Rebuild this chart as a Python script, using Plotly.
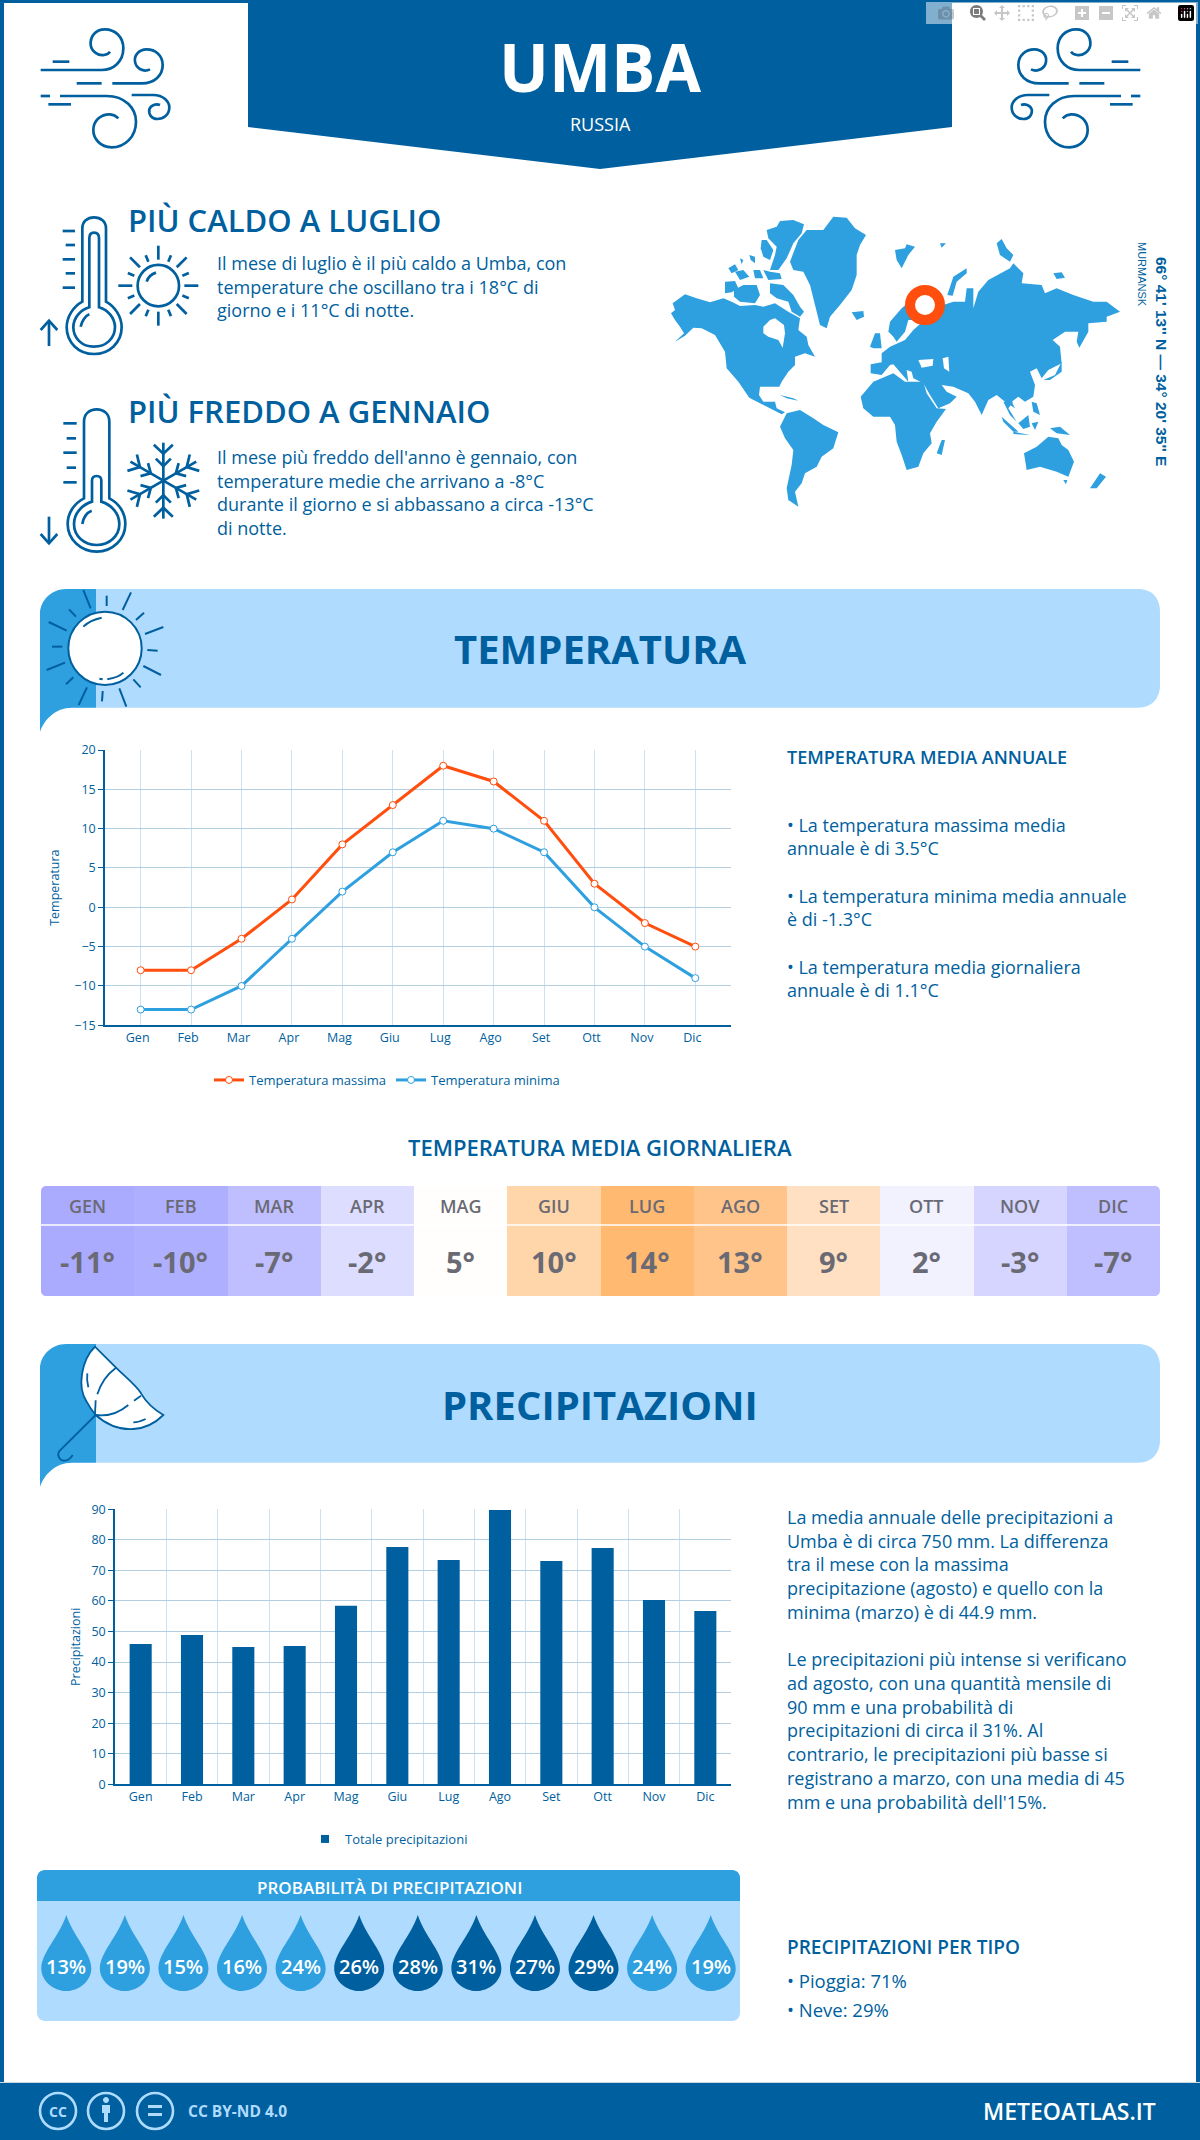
"""Umba - scheda clima (meteoatlas), ricostruita con Plotly"""
import math
import re

import plotly.graph_objects as go

W, H = 1200, 2140
DARK = "#005F9E"
BLUE = "#2E9FDF"
LIGHT = "#AFDBFF"
ORANGE = "#FF4E0D"
GRID = "#B4CEE2"
GRID_V = "#CFE1EF"
GREY = "#6A6A74"
FONT = "Open Sans"

# dati
months = ["Gen", "Feb", "Mar", "Apr", "Mag", "Giu", "Lug", "Ago", "Set", "Ott", "Nov", "Dic"]
months_upper = ["GEN", "FEB", "MAR", "APR", "MAG", "GIU", "LUG", "AGO", "SET", "OTT", "NOV", "DIC"]
temp_max = [-8, -8, -4, 1, 8, 13, 18, 16, 11, 3, -2, -5]
temp_min = [-13, -13, -10, -4, 2, 7, 11, 10, 7, 0, -5, -9]
temp_daily = [-11, -10, -7, -2, 5, 10, 14, 13, 9, 2, -3, -7]
precip = [45.9, 48.9, 44.9, 45.3, 58.4, 77.7, 73.4, 89.8, 73.1, 77.3, 60.3, 56.7]
precip_prob = [13, 19, 15, 16, 24, 26, 28, 31, 27, 29, 24, 19]
temp_ticks = [-15, -10, -5, 0, 5, 10, 15, 20]
precip_ticks = [0, 10, 20, 30, 40, 50, 60, 70, 80, 90]

hot_lines = ["Il mese di luglio è il più caldo a Umba, con",
             "temperature che oscillano tra i 18°C di",
             "giorno e i 11°C di notte."]
cold_lines = ["Il mese più freddo dell'anno è gennaio, con",
              "temperature medie che arrivano a -8°C",
              "durante il giorno e si abbassano a circa -13°C",
              "di notte."]
annual_lines = ["• La temperatura massima media", "annuale è di 3.5°C",
                "• La temperatura minima media annuale", "è di -1.3°C",
                "• La temperatura media giornaliera", "annuale è di 1.1°C"]
precip_lines = ["La media annuale delle precipitazioni a",
                "Umba è di circa 750 mm. La differenza",
                "tra il mese con la massima",
                "precipitazione (agosto) e quello con la",
                "minima (marzo) è di 44.9 mm.",
                "Le precipitazioni più intense si verificano",
                "ad agosto, con una quantità mensile di",
                "90 mm e una probabilità di",
                "precipitazioni di circa il 31%. Al",
                "contrario, le precipitazioni più basse si",
                "registrano a marzo, con una media di 45",
                "mm e una probabilità dell'15%."]

# contorni della mappa, in coordinate del ritaglio
WORLD = [
    [(38,295),(75,268),(110,280),(150,292),(190,280),(215,290),(240,303),(285,300),(310,305),(345,295),(385,320),(420,340),(415,375),(440,395),(445,420),(465,455),(435,445),(405,455),(405,480),(385,500),(365,530),(358,545),(300,545),(297,570),(310,590),(345,590),(350,610),(375,622),(365,628),(340,615),(300,595),(268,578),(235,530),(200,490),(195,440),(165,390),(125,370),(100,368),(75,392),(45,410),(72,385),(60,365),(45,345),(33,325),(45,315)],
    [(320,75),(350,65),(360,48),(400,45),(432,58),(425,85),(400,115),(380,160),(355,195),(330,195),(345,150),(350,125),(325,100)],
    [(305,105),(320,105),(340,135),(330,165),(310,155),(302,130)],
    [(205,190),(225,178),(235,195),(215,205)],
    [(225,200),(250,195),(268,215),(240,225)],
    [(280,195),(300,195),(310,220),(285,220)],
    [(310,195),(330,200),(360,205),(365,222),(325,225)],
    [(195,230),(225,228),(235,250),(215,262),(195,265)],
    [(222,255),(250,240),(290,240),(300,270),(285,295),(240,290),(222,275)],
    [(330,235),(370,240),(400,270),(420,305),(432,320),(420,335),(395,320),(385,290),(350,280),(330,265)],
    [(268,150),(285,155),(285,175),(272,165)],
    [(240,160),(250,165),(245,178)],
    [(390,170),(415,105),(440,75),(490,75),(520,35),(560,38),(585,70),(618,90),(600,120),(590,150),(590,210),(575,255),(540,300),(510,335),(500,370),(480,360),(465,300),(450,240),(430,200),(400,195)],
    [(575,322),(610,318),(612,335),(590,345)],
    [(705,135),(735,130),(740,118),(765,125),(745,150),(725,190),(710,165)],
    [(862,270),(880,215),(920,190),(920,205),(890,230),(878,272)],
    [(840,115),(858,115),(845,128)],
    [(1010,115),(1025,102),(1040,130),(1060,150),(1050,170),(1020,150)],
    [(1180,205),(1205,202),(1215,218),(1190,222)],
    [(685,380),(690,350),(725,310),(760,280),(800,270),(800,330),(770,345),(745,345),(735,380),(710,410),(700,395),(690,385)],
    [(632,478),(665,472),(665,445),(690,425),(735,405),(760,375),(800,340),(850,300),(880,290),(915,290),(920,250),(940,250),(940,310),(955,260),(985,225),(1050,190),(1060,175),(1090,205),(1085,235),(1145,240),(1155,265),(1190,250),(1240,270),(1300,290),(1340,290),(1380,320),(1340,335),(1340,350),(1285,355),(1285,380),(1258,428),(1250,410),(1255,380),(1215,380),(1178,405),(1200,425),(1205,475),(1165,495),(1145,520),(1130,490),(1110,500),(1125,540),(1120,575),(1095,590),(1075,575),(1055,590),(1065,610),(1035,590),(1010,570),(985,585),(965,630),(945,590),(925,565),(880,545),(845,540),(860,560),(890,575),(870,595),(835,610),(810,570),(790,535),(760,520),(755,500),(740,495),(745,530),(700,478),(690,480),(665,510),(632,505)],
    [(630,425),(645,385),(660,385),(665,430),(640,430)],
    [(602,575),(640,530),(700,505),(735,530),(790,530),(800,565),(830,610),(858,612),(830,650),(810,685),(815,715),(790,745),(775,785),(740,795),(725,750),(710,710),(705,660),(690,635),(640,635),(610,610)],
    [(830,745),(845,705),(855,705),(845,750)],
    [(360,665),(380,625),(420,615),(460,640),(490,660),(535,682),(520,730),(485,755),(470,785),(435,805),(425,835),(405,860),(415,905),(385,885),(380,850),(395,780),(400,735),(375,700)],
    [(1150,525),(1185,510),(1205,470),(1205,500),(1170,525)],
    [(1092,745),(1130,725),(1165,695),(1195,700),(1205,720),(1225,735),(1242,770),(1225,815),(1190,800),(1140,785),(1100,795)],
    [(1290,850),(1320,805),(1338,815),(1310,850)],
    [(1210,825),(1222,825),(1218,838)],
    [(1025,635),(1075,680),(1060,680),(1030,650)],
    [(1060,680),(1110,690),(1060,687)],
    [(1075,655),(1105,630),(1110,665),(1090,672)],
    [(1170,670),(1200,665),(1230,690),(1190,685)],
    [(1115,590),(1130,595),(1140,630),(1120,620)],
    [(1115,655),(1135,650),(1125,675)],
    [(1030,590),(1060,590),(1045,610),(1070,650),(1050,630)],
    [(360,570),(400,580),(415,587),(380,580)],
]
WORLD_HOLES = [
    [(310,365),(330,345),(345,340),(372,360),(375,385),(368,428),(355,405),(325,395),(310,385)],
    [(775,465),(820,462),(818,482),(785,488)],
    [(848,460),(865,455),(868,500),(852,490)],
]

WIND = [
    "M32 150 L215 150 C250 150 280 125 280 85 C280 50 255 28 225 28 C195 28 180 50 182 75 C185 95 205 108 222 105 C232 103 238 98 240 95",
    "M68 125 L118 125",
    "M140 190 L215 190",
    "M247 190 L335 190 C375 190 398 165 398 135 C398 105 375 88 350 88 C325 88 312 108 315 125 C318 145 340 158 360 148",
    "M32 228 L60 228",
    "M90 228 L230 228 C285 228 318 265 318 305 C318 350 285 382 245 382 C210 382 190 355 190 330 C190 300 215 282 240 283 C250 284 260 290 265 295",
    "M55 253 L123 253",
    "M305 225 L370 225 C400 225 418 245 418 262 C418 285 400 297 382 297 C365 297 355 283 358 268 C362 255 378 250 390 255",
]
THERMO_HOT = [
    "M157 275 L157 55 C157 35 172 22 192 22 C212 22 228 35 228 55 L228 275 C255 290 275 320 275 352 C275 398 238 432 192 432 C146 432 110 398 110 352 C110 320 130 290 157 275 Z",
    "M178 292 L178 85 C178 72 185 68 192 68 C200 68 207 72 207 85 L207 292 C235 300 255 325 255 352 C255 385 228 410 192 410 C156 410 130 385 130 352 C130 325 150 300 178 292 Z",
    "M152 350 C155 335 165 318 178 313",
    "M98 63 L135 63", "M107 105 L135 105", "M98 148 L135 148", "M107 190 L135 190", "M98 233 L135 233",
    "M57 408 L57 332", "M32 360 L57 332 L82 360",
    "M350 215 C355 200 365 192 378 188",
]
THERMO_COLD = [
    "M162 295 L162 65 C162 42 178 28 200 28 C222 28 238 42 238 65 L238 295 C268 310 286 340 286 372 C286 418 248 455 200 455 C152 455 113 418 113 372 C113 340 132 310 162 295 Z",
    "M186 305 L186 242 C186 232 192 228 200 228 C208 228 214 232 214 242 L214 305 C245 315 268 340 268 372 C268 408 238 435 200 435 C162 435 132 408 132 372 C132 340 155 315 186 305 Z",
    "M157 372 C160 352 170 338 185 332",
    "M100 70 L140 70", "M110 115 L138 115", "M100 158 L140 158", "M110 203 L138 203", "M100 247 L140 247",
    "M57 350 L57 430", "M32 402 L57 430 L82 402",
]
SUN_RAYS = [
    "M160 30 L182 85", "M230 47 L230 78", "M303 37 L278 90", "M342 98 L318 120",
    "M400 141 L345 162", "M352 210 L383 212", "M340 258 L393 285", "M310 298 L332 322",
    "M268 325 L289 380", "M218 333 L216 364", "M171 322 L146 375", "M130 292 L108 313",
    "M105 248 L50 270", "M97 200 L66 200", "M110 152 L56 126", "M138 110 L117 88",
    "M160 140 C175 125 195 117 215 113", "M232 298 C250 295 268 290 280 278", "M208 296 L218 298",
]
UMBRELLA_CANOPY = "M195 35 C155 75 140 155 170 200 C178 215 190 232 197 240 C225 265 265 285 310 282 C345 280 378 262 400 240 C375 225 350 205 333 175 C318 150 285 125 258 98 C240 80 215 55 195 35 Z"
UMBRELLA_LINES = [
    "M258 98 C235 115 212 145 202 178", "M172 115 C170 130 172 145 175 157", "M197 196 L195 238",
    "M197 240 C230 245 265 235 295 210", "M312 197 L333 182", "M310 262 C325 262 335 258 347 252",
    "M197 240 L88 348 C80 360 88 375 100 377 C112 378 122 370 128 360",
]

shapes = []
annotations = []


def pt(x, y):
    return x / W, 1 - y / H


def zpath(d, ox=0, oy=0, scale=1 / 3, mirror=None):
    """converte un path da coordinate del ritaglio a coordinate paper"""
    out, nums = [], []
    for tok in re.findall(r"[MLCQZ]|-?\d+\.?\d*", d):
        if tok.isalpha():
            out.append(tok)
            continue
        nums.append(float(tok))
        if len(nums) == 2:
            x, y = ox + nums[0] * scale, oy + nums[1] * scale
            if mirror is not None:
                x = mirror - x
            px, py = pt(x, y)
            out.append(f"{px:.5f} {py:.5f}")
            nums = []
    return " ".join(out)


def add_path(path, fill=None, color=None, width=0):
    shapes.append(dict(type="path", xref="paper", yref="paper", path=path,
                       fillcolor=fill or "rgba(0,0,0,0)",
                       line=dict(color=color or "rgba(0,0,0,0)", width=width)))


def add_rect(x0, y0, x1, y1, fill):
    a, b = pt(x0, y0)
    c, d = pt(x1, y1)
    shapes.append(dict(type="rect", xref="paper", yref="paper", x0=a, y0=b, x1=c, y1=d,
                       fillcolor=fill, line=dict(width=0)))


def add_circle(cx, cy, r, fill=None, color=DARK, width=2):
    a, b = pt(cx - r, cy - r)
    c, d = pt(cx + r, cy + r)
    shapes.append(dict(type="circle", xref="paper", yref="paper", x0=a, y0=b, x1=c, y1=d,
                       fillcolor=fill or "rgba(0,0,0,0)", line=dict(color=color, width=width)))


def round_rect(x0, y0, x1, y1, r):
    k = r * 0.45
    return zpath(
        f"M{x0 + r} {y0} L{x1 - r} {y0} C{x1 - k} {y0} {x1} {y0 + k} {x1} {y0 + r} "
        f"L{x1} {y1 - r} C{x1} {y1 - k} {x1 - k} {y1} {x1 - r} {y1} "
        f"L{x0 + r} {y1} C{x0 + k} {y1} {x0} {y1 - k} {x0} {y1 - r} "
        f"L{x0} {y0 + r} C{x0} {y0 + k} {x0 + k} {y0} {x0 + r} {y0} Z", scale=1)


def text(x, y, s, size, color=DARK, weight=400, anchor="left", angle=0, family=FONT):
    a, b = pt(x, y)
    annotations.append(dict(xref="paper", yref="paper", x=a, y=b, text=s, showarrow=False,
                            xanchor=anchor, yanchor="middle", textangle=angle,
                            font=dict(family=family, size=size, color=color, weight=weight)))


def banner(dy):
    add_path(zpath(f"M96 {589 + dy} L1138 {589 + dy} C1152 {589 + dy} 1160 {598 + dy} 1160 {612 + dy} "
                   f"L1160 {685 + dy} C1160 {698 + dy} 1152 {707.7 + dy} 1138 {707.7 + dy} L96 {707.7 + dy} Z",
                   scale=1), fill=LIGHT)
    add_path(zpath(f"M40 {732 + dy} L40 {614 + dy} C40 {600 + dy} 52 {589 + dy} 66 {589 + dy} L96 {589 + dy} "
                   f"L96 {707.7 + dy} L72 {707.7 + dy} C55 {707.7 + dy} 44 {720 + dy} 40 {732 + dy} Z",
                   scale=1), fill=BLUE)


# cornice e testata
add_rect(0, 0, 4, H, DARK)
add_rect(W - 4, 0, W, H, DARK)
add_rect(0, 0, W, 3, DARK)
add_path(zpath("M248 0 L952 0 L952 127 L600 169 L248 127 Z", scale=1), fill=DARK)
text(600, 66, "UMBA", 66, "white", 700, "center")
text(600, 124, "RUSSIA", 18, "white", 400, "center")

for d in WIND:
    add_path(zpath(d, 30, 20), color=DARK, width=2.7)
    add_path(zpath(d, 30, 20, mirror=1181), color=DARK, width=2.7)

# icone caldo / freddo
for d in THERMO_HOT:
    add_path(zpath(d, 30, 210), color=DARK, width=2.7)
sun_x, sun_y = 30 + 385 / 3, 210 + 227 / 3
add_circle(sun_x, sun_y, 20.7, width=2.7)
for k in range(16):
    ang = k * math.pi / 8
    r2 = 40 if k % 2 == 0 else 33
    x0, y0 = sun_x + 26 * math.cos(ang), sun_y + 26 * math.sin(ang)
    x1, y1 = sun_x + r2 * math.cos(ang), sun_y + r2 * math.sin(ang)
    add_path(zpath(f"M{x0:.2f} {y0:.2f} L{x1:.2f} {y1:.2f}", scale=1), color=DARK, width=2.7)

for d in THERMO_COLD:
    add_path(zpath(d, 30, 400), color=DARK, width=2.7)
fl_x, fl_y = 30 + 400 / 3, 400 + 242 / 3
for k in range(6):
    ang = math.pi / 2 + k * math.pi / 3
    ux, uy = math.cos(ang), math.sin(ang)
    vx, vy = -uy, ux
    add_path(zpath(f"M{fl_x:.2f} {fl_y:.2f} L{fl_x + 38 * ux:.2f} {fl_y + 38 * uy:.2f}", scale=1),
             color=DARK, width=2.7)
    for apex, tip, lat in [(27, 36, 9.5), (14.5, 22, 7.5)]:
        add_path(zpath(f"M{fl_x + tip * ux + lat * vx:.2f} {fl_y + tip * uy + lat * vy:.2f} "
                       f"L{fl_x + apex * ux:.2f} {fl_y + apex * uy:.2f} "
                       f"L{fl_x + tip * ux - lat * vx:.2f} {fl_y + tip * uy - lat * vy:.2f}", scale=1),
                 color=DARK, width=2.7)

text(126, 220, "PIÙ CALDO A LUGLIO", 31, DARK, 600)
for i, line in enumerate(hot_lines):
    text(215, 263 + i * 23.5, line, 18)
text(126, 411, "PIÙ FREDDO A GENNAIO", 31, DARK, 600)
for i, line in enumerate(cold_lines):
    text(215, 457 + i * 23.7, line, 18)

# mappa
for poly in WORLD:
    add_path(zpath("M" + " L".join(f"{x} {y}" for x, y in poly) + " Z", 660, 205), fill=BLUE)
for poly in WORLD_HOLES:
    add_path(zpath("M" + " L".join(f"{x} {y}" for x, y in poly) + " Z", 660, 205), fill="white")
add_circle(925, 305, 15, fill="white", color=ORANGE, width=10)
text(1162, 361, "66° 41' 13'' N — 34° 20' 35'' E", 15.5, DARK, 700, "center", 90, "Liberation Sans")
text(1142, 274, "MURMANSK", 11, DARK, 400, "center", 90, "Liberation Sans")

# sezione temperatura
banner(0)
add_circle(30 + 225 / 3, 580 + 205 / 3, 36.7, fill="white", width=2)
for d in SUN_RAYS:
    add_path(zpath(d, 30, 580), color=DARK, width=2)
text(600, 648, "TEMPERATURA", 40, DARK, 700, "center")
text(785, 757, "TEMPERATURA MEDIA ANNUALE", 18, DARK, 600)
for y, line in zip([825, 848, 896, 919, 967, 990.5], annual_lines):
    text(785, y, line, 18)
text(600, 1147, "TEMPERATURA MEDIA GIORNALIERA", 22, DARK, 600, "center")

# striscia temperatura giornaliera
for i, (m, t) in enumerate(zip(months_upper, temp_daily)):
    annotations.append(dict(xref="x3", yref="paper", x=months[i], y=pt(0, 1206)[1], text=m, showarrow=False,
                            yanchor="middle", font=dict(family=FONT, size=18, color=GREY, weight=600)))
    annotations.append(dict(xref="x3", yref="paper", x=months[i], y=pt(0, 1261)[1], text=f"{t}°", showarrow=False,
                            yanchor="middle", font=dict(family=FONT, size=29, color=GREY, weight=700)))
add_path(zpath("M41 1225 L1160 1225", scale=1), color="white", width=1.5)
for cx, cy, sx, sy in [(41, 1186, 1, 1), (1160, 1186, -1, 1), (41, 1296, 1, -1), (1160, 1296, -1, -1)]:
    add_path(zpath(f"M{cx} {cy} L{cx + 6 * sx} {cy} C{cx + 2 * sx} {cy} {cx} {cy + 2 * sy} {cx} {cy + 6 * sy} Z",
                   scale=1), fill="white")

# sezione precipitazioni
banner(755)
add_path(zpath(UMBRELLA_CANOPY, 30, 1335), fill="white", color=DARK, width=1.8)
for d in UMBRELLA_LINES:
    add_path(zpath(d, 30, 1335), color=DARK, width=1.8)
text(600, 1404, "PRECIPITAZIONI", 40, DARK, 700, "center")
for y, line in zip([1517, 1540.5, 1564, 1588, 1612, 1659, 1683, 1707, 1730, 1754, 1778, 1802], precip_lines):
    text(785, y, line, 18)

# pannello probabilità
add_path(round_rect(37, 1870, 740, 2021, 8), fill=LIGHT)
add_path(round_rect(37, 1870, 740, 1910, 8), fill=BLUE)
add_rect(37, 1901, 740, 1912, LIGHT)
text(389, 1887, "PROBABILITÀ DI PRECIPITAZIONI", 17, "white", 600, "center")
for i, p in enumerate(precip_prob):
    hw = 0.427
    drop = (f"M{i} 1 C{i + 0.12} 0.72 {i + hw} 0.5 {i + hw} 0.3 C{i + hw} 0.12 {i + 0.2} 0 {i} 0 "
            f"C{i - 0.2} 0 {i - hw} 0.12 {i - hw} 0.3 C{i - hw} 0.5 {i - 0.12} 0.72 {i} 1 Z")
    shapes.append(dict(type="path", xref="x4", yref="y4", path=drop, line=dict(width=0),
                       fillcolor=DARK if p >= 26 else BLUE))
    annotations.append(dict(xref="x4", yref="y4", x=i, y=0.32, text=f"{p}%", showarrow=False, yanchor="middle",
                            font=dict(family=FONT, size=20, color="white", weight=600)))

text(785, 1947, "PRECIPITAZIONI PER TIPO", 19, DARK, 600)
text(785, 1980, "• Pioggia: 71%", 18.5)
text(785, 2009, "• Neve: 29%", 18.5)

# piè di pagina
add_rect(0, 2082, W, 2084, "#C9D9E6")
add_rect(0, 2083, W, H, DARK)
for cx in [58, 106, 155]:
    add_circle(cx, 2111, 18, color=LIGHT, width=2.6)
text(58, 2111, "CC", 14, LIGHT, 700, "center")
add_circle(106, 2100, 2.5, fill=LIGHT, color=LIGHT, width=1)
add_rect(102, 2105, 110, 2113, LIGHT)
add_rect(104, 2113, 108, 2122, LIGHT)
add_rect(148, 2105, 162, 2108, LIGHT)
add_rect(148, 2113, 162, 2116, LIGHT)
text(186, 2111, "CC BY-ND 4.0", 15.5, LIGHT, 700)
text(1158, 2111, "METEOATLAS.IT", 23, "white", 600, "right")

fig = go.Figure()
fig.add_trace(go.Scatter(x=months, y=temp_max, name="Temperatura massima", mode="lines+markers",
                         line=dict(color=ORANGE, width=3),
                         marker=dict(size=7, color="white", line=dict(color=ORANGE, width=1)),
                         xaxis="x", yaxis="y", legend="legend"))
fig.add_trace(go.Scatter(x=months, y=temp_min, name="Temperatura minima", mode="lines+markers",
                         line=dict(color=BLUE, width=3),
                         marker=dict(size=7, color="white", line=dict(color=BLUE, width=1)),
                         xaxis="x", yaxis="y", legend="legend"))
fig.add_trace(go.Bar(x=months, y=precip, name="Totale precipitazioni", marker_color=DARK,
                     width=0.43, xaxis="x2", yaxis="y2", showlegend=False))
fig.add_trace(go.Scatter(x=[None], y=[None], name="Totale precipitazioni", mode="markers",
                         marker=dict(symbol="square", size=8, color=DARK),
                         xaxis="x2", yaxis="y2", legend="legend2"))
fig.add_trace(go.Heatmap(
    x=months, y=["t"], z=[temp_daily], showscale=False, zmin=-11, zmax=14, xaxis="x3", yaxis="y3",
    colorscale=[[0, "#AAAAFF"], [4 / 25, "#BFBFFF"], [8 / 25, "#D5D5FF"], [9 / 25, "#DDDDFF"],
                [13 / 25, "#F2F2FF"], [16 / 25, "#FFFEFC"], [20 / 25, "#FFE0C2"], [21 / 25, "#FFD5AA"],
                [24 / 25, "#FFC48A"], [1, "#FFB970"]]))

tick_font = dict(family=FONT, size=12.5, color=DARK)


def xdom(a, b):
    return [a / W, b / W]


def ydom(top, bottom):
    return [1 - bottom / H, 1 - top / H]


fig.update_layout(
    width=W, height=H, template="none", margin=dict(l=0, r=0, t=0, b=0),
    paper_bgcolor="white", plot_bgcolor="white", font=dict(family=FONT, color=DARK),
    hovermode=False, shapes=shapes, annotations=annotations,
    legend=dict(orientation="h", x=387 / W, y=1 - 1080 / H, xanchor="center", yanchor="middle",
                font=dict(family=FONT, size=13, color=DARK), bgcolor="rgba(0,0,0,0)"),
    legend2=dict(orientation="h", x=389 / W, y=1 - 1839 / H, xanchor="center", yanchor="middle",
                 font=dict(family=FONT, size=13, color=DARK), bgcolor="rgba(0,0,0,0)"),
    xaxis=dict(domain=xdom(105, 731), anchor="y", type="category", categoryarray=months,
               tickfont=tick_font, showgrid=True, gridcolor=GRID_V, gridwidth=1, showline=True,
               linecolor=DARK, linewidth=2, ticks="", ticklabelshift=-3, zeroline=False),
    yaxis=dict(domain=ydom(750, 1025.3), anchor="x", range=[-15, 20], tickvals=temp_ticks,
               ticksuffix="°C", tickfont=tick_font, showgrid=True, gridcolor=GRID, gridwidth=1.3,
               showline=True, linecolor=DARK, linewidth=1.5, ticks="outside", ticklen=5, tickcolor=DARK,
               zeroline=False, title=dict(text="Temperatura", font=dict(family=FONT, size=12.5, color=DARK), standoff=12)),
    xaxis2=dict(domain=xdom(115, 731), anchor="y2", type="category", categoryarray=months,
                tickfont=tick_font, showgrid=True, gridcolor=GRID_V, gridwidth=1, tickson="boundaries",
                showline=True, linecolor=DARK, linewidth=2, ticks="", zeroline=False),
    yaxis2=dict(domain=ydom(1509.3, 1784.3), anchor="x2", range=[0, 90], tickvals=precip_ticks,
                ticksuffix=" mm", tickfont=tick_font, showgrid=True, gridcolor=GRID, gridwidth=1.3,
                showline=True, linecolor=DARK, linewidth=1.5, ticks="outside", ticklen=5, tickcolor=DARK,
                zeroline=False, title=dict(text="Precipitazioni", font=dict(family=FONT, size=12.5, color=DARK), standoff=8)),
    xaxis3=dict(domain=xdom(41, 1160), anchor="y3", visible=False, type="category", categoryarray=months),
    yaxis3=dict(domain=ydom(1186, 1296), anchor="x3", visible=False),
    xaxis4=dict(domain=xdom(37, 740), anchor="y4", range=[-0.5, 11.5], tickvals=list(range(12)),
                ticktext=months_upper, tickfont=dict(family=FONT, size=14, color=DARK, weight=600),
                showgrid=False, showline=False, zeroline=False, ticks="outside", ticklen=5, tickcolor="rgba(0,0,0,0)"),
    yaxis4=dict(domain=ydom(1915, 1991), anchor="x4", range=[0, 1], visible=False),
)

fig.write_html("out.html", post_script="document.body.style.margin='0';document.body.style.overflow='hidden';")
